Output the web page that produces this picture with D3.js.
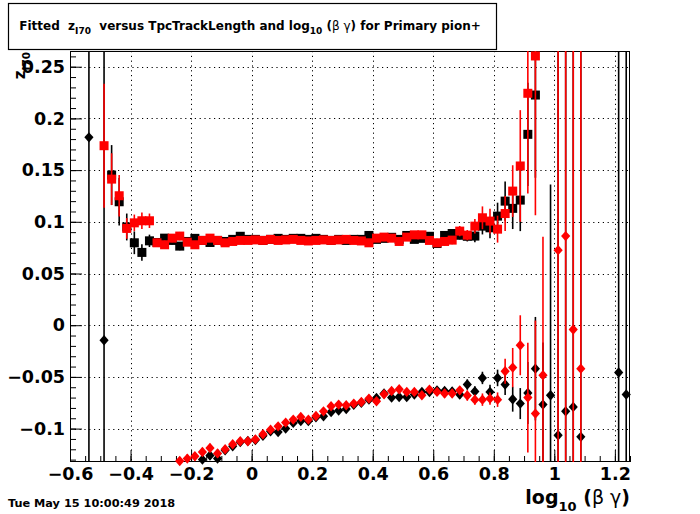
<!DOCTYPE html>
<html><head><meta charset="utf-8">
<script src="https://cdn.jsdelivr.net/npm/d3@7"></script>
<style>body{margin:0;background:#fff}svg{display:block}text{white-space:pre}</style>
</head><body>
<script>
// ---------------- data ----------------
const xTicks = [-0.6,-0.4,-0.2,0,0.2,0.4,0.6,0.8,1.0,1.2];
const yTicks = [-0.1,-0.05,0,0.05,0.1,0.15,0.2,0.25];
const xDomain = [-0.6, 1.25];
const yDomain = [-0.1323, 0.2652];

const blackSqX = [-0.4625,-0.4375,-0.4125,-0.3875,-0.3625,-0.3375,-0.3125,-0.2875,-0.2625,-0.2375,-0.2125,-0.1875,-0.1625,-0.1375,-0.1125,-0.0875,-0.0625,-0.0375,-0.0125,0.0125,0.0375,0.0625,0.0875,0.1125,0.1375,0.1625,0.1875,0.2125,0.2375,0.2625,0.2875,0.3125,0.3375,0.3625,0.3875,0.4125,0.4375,0.4625,0.4875,0.5125,0.5375,0.5625,0.5875,0.6125,0.6375,0.6625,0.6875,0.7125,0.7375,0.7625,0.7875,0.8125,0.8375,0.8625,0.8875,0.9125,0.9375];
const blackSqY = [0.1452,0.1194,0.095,0.0797,0.0704,0.0816,0.080,0.0842,0.082,0.0765,0.081,0.084,0.082,0.080,0.082,0.081,0.083,0.086,0.083,0.083,0.082,0.083,0.084,0.083,0.084,0.084,0.083,0.084,0.083,0.082,0.083,0.082,0.083,0.083,0.0868,0.083,0.084,0.085,0.083,0.0868,0.083,0.084,0.086,0.079,0.0868,0.0887,0.087,0.086,0.0862,0.0958,0.0942,0.1055,0.120,0.113,0.121,0.1846,0.2226];
const blackSqE = [0.029,0.023,0.013,0.011,0.008,0.006,0.004,0.004,0.004,0.004,0.003,0.003,0.003,0.003,0.003,0.003,0.003,0.003,0.003,0.003,0.003,0.003,0.003,0.003,0.003,0.003,0.003,0.003,0.003,0.003,0.003,0.003,0.003,0.003,0.003,0.003,0.003,0.003,0.003,0.003,0.003,0.003,0.003,0.003,0.004,0.004,0.004,0.005,0.006,0.008,0.010,0.013,0.019,0.020,0.030,0.050,0.080];

const redSqX = [-0.4875,-0.4625,-0.4375,-0.4125,-0.3875,-0.3625,-0.3375,-0.3125,-0.2875,-0.2625,-0.2375,-0.2125,-0.1875,-0.1625,-0.1375,-0.1125,-0.0875,-0.0625,-0.0375,-0.0125,0.0125,0.0375,0.0625,0.0875,0.1125,0.1375,0.1625,0.1875,0.2125,0.2375,0.2625,0.2875,0.3125,0.3375,0.3625,0.3875,0.4125,0.4375,0.4625,0.4875,0.5125,0.5375,0.5625,0.5875,0.6125,0.6375,0.6625,0.6875,0.7125,0.7375,0.7625,0.7875,0.8125,0.8375,0.8625,0.8875,0.9125,0.9375];
const redSqY = [0.1736,0.1413,0.1252,0.0936,0.099,0.101,0.101,0.0797,0.0778,0.0842,0.0862,0.0803,0.0778,0.082,0.0842,0.082,0.0797,0.081,0.082,0.082,0.0825,0.082,0.083,0.082,0.0825,0.083,0.082,0.0815,0.082,0.0825,0.082,0.0825,0.083,0.082,0.0815,0.0797,0.0842,0.0852,0.0842,0.081,0.0852,0.0874,0.0874,0.082,0.0797,0.081,0.0823,0.091,0.0871,0.0958,0.1039,0.1007,0.0929,0.108,0.1297,0.154,0.2243,0.2604];
const redSqE = [0.060,0.025,0.020,0.010,0.008,0.008,0.007,0.004,0.004,0.004,0.004,0.003,0.003,0.003,0.003,0.003,0.003,0.003,0.003,0.003,0.003,0.003,0.003,0.003,0.003,0.003,0.003,0.003,0.003,0.003,0.003,0.003,0.003,0.003,0.003,0.003,0.003,0.003,0.003,0.003,0.003,0.003,0.003,0.003,0.004,0.004,0.004,0.005,0.005,0.007,0.011,0.012,0.013,0.017,0.025,0.054,0.097,0.154];

const blackDiX = [-0.5375,-0.4875,-0.1625,-0.1375,-0.1125,-0.0875,-0.0625,-0.0375,-0.0125,0.0125,0.0375,0.0625,0.0875,0.1125,0.1375,0.1625,0.1875,0.2125,0.2375,0.2625,0.2875,0.3125,0.3375,0.3625,0.3875,0.4125,0.4375,0.4625,0.4875,0.5125,0.5375,0.5625,0.5875,0.6125,0.6375,0.6625,0.6875,0.7125,0.7375,0.7625,0.7875,0.8125,0.8375,0.8625,0.8875,0.9125,0.9375,0.9625,0.9875,1.0125,1.0375,1.0625,1.0875,1.2125,1.2375];
const blackDiY = [0.1817,-0.0145,-0.130,-0.126,-0.129,-0.121,-0.117,-0.113,-0.112,-0.111,-0.107,-0.1026,-0.1033,-0.100,-0.0945,-0.0926,-0.0926,-0.089,-0.088,-0.084,-0.0826,-0.081,-0.077,-0.075,-0.072,-0.0704,-0.066,-0.070,-0.0694,-0.0694,-0.067,-0.0646,-0.0646,-0.063,-0.0636,-0.064,-0.067,-0.0574,-0.064,-0.051,-0.0645,-0.051,-0.0574,-0.0716,-0.0758,-0.0655,-0.042,-0.0768,-0.0678,-0.1065,-0.0833,-0.079,-0.108,-0.0458,-0.067];
const blackDiE = [1,1,0.004,0.004,0.004,0.003,0.003,0.003,0.003,0.003,0.003,0.003,0.003,0.003,0.003,0.003,0.003,0.003,0.003,0.003,0.003,0.003,0.003,0.003,0.003,0.003,0.003,0.003,0.003,0.003,0.003,0.003,0.003,0.003,0.003,0.004,0.004,0.005,0.005,0.006,0.007,0.008,0.010,0.012,0.015,0.030,0.050,0.060,0.204,1,1,1,1,1,1];

const redDiX = [-0.2375,-0.2125,-0.1875,-0.1625,-0.1375,-0.1125,-0.0875,-0.0625,-0.0375,-0.0125,0.0125,0.0375,0.0625,0.0875,0.1125,0.1375,0.1625,0.1875,0.2125,0.2375,0.2625,0.2875,0.3125,0.3375,0.3625,0.3875,0.4125,0.4375,0.4625,0.4875,0.5125,0.5375,0.5625,0.5875,0.6125,0.6375,0.6625,0.6875,0.7125,0.7375,0.7625,0.7875,0.8125,0.8375,0.8625,0.8875,0.9125,0.9375,0.9625,1.0125,1.0375,1.0625,1.0875];
const redDiY = [-0.1313,-0.129,-0.1268,-0.1226,-0.1187,-0.124,-0.120,-0.1152,-0.1123,-0.1123,-0.1104,-0.1055,-0.101,-0.0978,-0.0942,-0.0913,-0.0887,-0.0913,-0.0878,-0.0833,-0.0784,-0.0768,-0.0774,-0.0758,-0.0742,-0.071,-0.0736,-0.0668,-0.0636,-0.062,-0.0645,-0.0645,-0.0678,-0.0623,-0.0645,-0.066,-0.066,-0.063,-0.068,-0.072,-0.072,-0.071,-0.072,-0.0445,-0.041,-0.0194,-0.070,-0.0855,-0.0484,0.0726,0.0862,-0.0042,-0.042];
const redDiE = [0.004,0.004,0.004,0.004,0.004,0.004,0.003,0.003,0.003,0.003,0.003,0.003,0.003,0.003,0.003,0.003,0.003,0.003,0.003,0.003,0.003,0.003,0.003,0.003,0.003,0.003,0.003,0.003,0.003,0.003,0.003,0.003,0.003,0.003,0.003,0.004,0.004,0.004,0.005,0.005,0.006,0.006,0.007,0.012,0.019,0.029,0.053,0.090,0.134,1,1,1,1];

// ---------------- layout ----------------
const W = 700, H = 514;
const L = 70, R = 630, T = 51, B = 462;
const FONT = "DejaVu Sans";

const svg = d3.select("body").append("svg").attr("width", W).attr("height", H)
  .style("font-family", FONT);
svg.append("rect").attr("width", W).attr("height", H).attr("fill", "#fff");

const x = d3.scaleLinear().domain(xDomain).range([L, R]);
const y = d3.scaleLinear().domain(yDomain).range([B, T]);

svg.append("defs").append("clipPath").attr("id", "clip")
  .append("rect").attr("x", L).attr("y", T).attr("width", R - L).attr("height", B - T);

// grid
const grid = svg.append("g").attr("stroke", "#000").attr("stroke-width", 1)
  .attr("stroke-dasharray", "1.2,3.6");
grid.selectAll(".gx").data(xTicks.filter(v => v > xDomain[0])).join("line")
  .attr("x1", d => Math.round(x(d)) + 0.5).attr("x2", d => Math.round(x(d)) + 0.5)
  .attr("y1", T).attr("y2", B);
grid.selectAll(".gy").data(yTicks).join("line")
  .attr("y1", d => Math.round(y(d)) + 0.5).attr("y2", d => Math.round(y(d)) + 0.5)
  .attr("x1", L).attr("x2", R);

// axes
const fmt = d => {
  const s = String(+d.toFixed(3));
  return s.replace("-", "\u2212");
};
const xMinor = d3.range(-0.6, 1.2501, 0.05).map(v => +v.toFixed(3));
const yMinor = d3.range(-0.13, 0.2651, 0.01).map(v => +v.toFixed(3));

const gx = svg.append("g").attr("transform", `translate(0,${B})`)
  .call(d3.axisBottom(x).tickValues(xTicks).tickSize(-12).tickPadding(6).tickFormat(fmt));
const gxm = svg.append("g").attr("transform", `translate(0,${B})`)
  .call(d3.axisBottom(x).tickValues(xMinor).tickSize(-6).tickFormat(""));
const gy = svg.append("g").attr("transform", `translate(${L},0)`)
  .call(d3.axisLeft(y).tickValues(yTicks).tickSize(-12).tickPadding(5).tickFormat(fmt));
const gym = svg.append("g").attr("transform", `translate(${L},0)`)
  .call(d3.axisLeft(y).tickValues(yMinor).tickSize(-6).tickFormat(""));
[gx, gxm, gy, gym].forEach(g => {
  g.select(".domain").remove();
  g.selectAll("line").attr("stroke", "#000").attr("stroke-width", 1);
  g.selectAll("text").attr("fill", "#000").style("font-family", FONT)
    .style("font-weight", "bold").style("font-size", "17.5px");
});

// frame
svg.append("rect").attr("x", L + 0.5).attr("y", T + 0.5).attr("width", R - L - 1).attr("height", B - T - 1)
  .attr("fill", "none").attr("stroke", "#000").attr("stroke-width", 1);

// series drawing
function series(xs, ys, es, color, shape) {
  const data = xs.map((v, i) => ({ x: v, y: ys[i], e: es[i] }))
    .filter(d => d.x >= xDomain[0] && d.x <= xDomain[1] && d.y >= yDomain[0] && d.y <= yDomain[1]);
  const g = svg.append("g");
  g.append("g").attr("clip-path", "url(#clip)")
    .selectAll("line").data(data).join("line")
    .attr("x1", d => x(d.x)).attr("x2", d => x(d.x))
    .attr("y1", d => y(d.y - d.e)).attr("y2", d => y(d.y + d.e))
    .attr("stroke", color).attr("stroke-width", 1.6);
  if (shape === "square") {
    g.selectAll("rect").data(data).join("rect")
      .attr("x", d => x(d.x) - 4.5).attr("y", d => y(d.y) - 4.5)
      .attr("width", 9).attr("height", 9).attr("fill", color);
  } else {
    g.selectAll("path").data(data).join("path")
      .attr("d", d => {
        const cx = x(d.x), cy = y(d.y);
        return `M${cx},${cy - 5.2}L${cx + 4.6},${cy}L${cx},${cy + 5.2}L${cx - 4.6},${cy}Z`;
      })
      .attr("fill", color);
  }
}
series(blackSqX, blackSqY, blackSqE, "#000", "square");
series(blackDiX, blackDiY, blackDiE, "#000", "diamond");
series(redSqX, redSqY, redSqE, "#ff0000", "square");
series(redDiX, redDiY, redDiE, "#ff0000", "diamond");

// title box
svg.append("rect").attr("x", 8.5).attr("y", 3.5).attr("width", 488).attr("height", 46)
  .attr("fill", "#fff").attr("stroke", "#000").attr("stroke-width", 1.2);
const title = svg.append("text").attr("x", 250).attr("y", 30).attr("text-anchor", "middle")
  .style("font-weight", "bold").style("font-size", "12px");
title.append("tspan").text("Fitted  z");
title.append("tspan").attr("dy", 4).style("font-size", "9px").text("I70");
title.append("tspan").attr("dy", -4).text("  versus TpcTrackLength and log");
title.append("tspan").attr("dy", 4).style("font-size", "9px").text("10");
title.append("tspan").attr("dy", -4).text(" (");
title.append("tspan").style("font-weight", "normal").text("\u03B2 \u03B3");
title.append("tspan").text(") for Primary pion+");

// y title
const yt = svg.append("text").attr("transform", "translate(25,52) rotate(-90)")
  .attr("text-anchor", "end").style("font-weight", "bold").style("font-size", "15px");
yt.append("tspan").text("z");
yt.append("tspan").attr("dy", 5).style("font-size", "10.5px").text("I70");

// x title
const xt = svg.append("text").attr("x", 630).attr("y", 504).attr("text-anchor", "end")
  .style("font-weight", "bold").style("font-size", "19px");
xt.append("tspan").text("log");
xt.append("tspan").attr("dy", 7).style("font-size", "13px").text("10");
xt.append("tspan").attr("dy", -7).text(" (");
xt.append("tspan").style("font-weight", "normal").text("\u03B2 \u03B3");
xt.append("tspan").text(")");

// date
svg.append("text").attr("x", 8).attr("y", 507).style("font-weight", "bold")
  .style("font-size", "11.3px").text("Tue May 15 10:00:49 2018");
</script>
</body></html>
